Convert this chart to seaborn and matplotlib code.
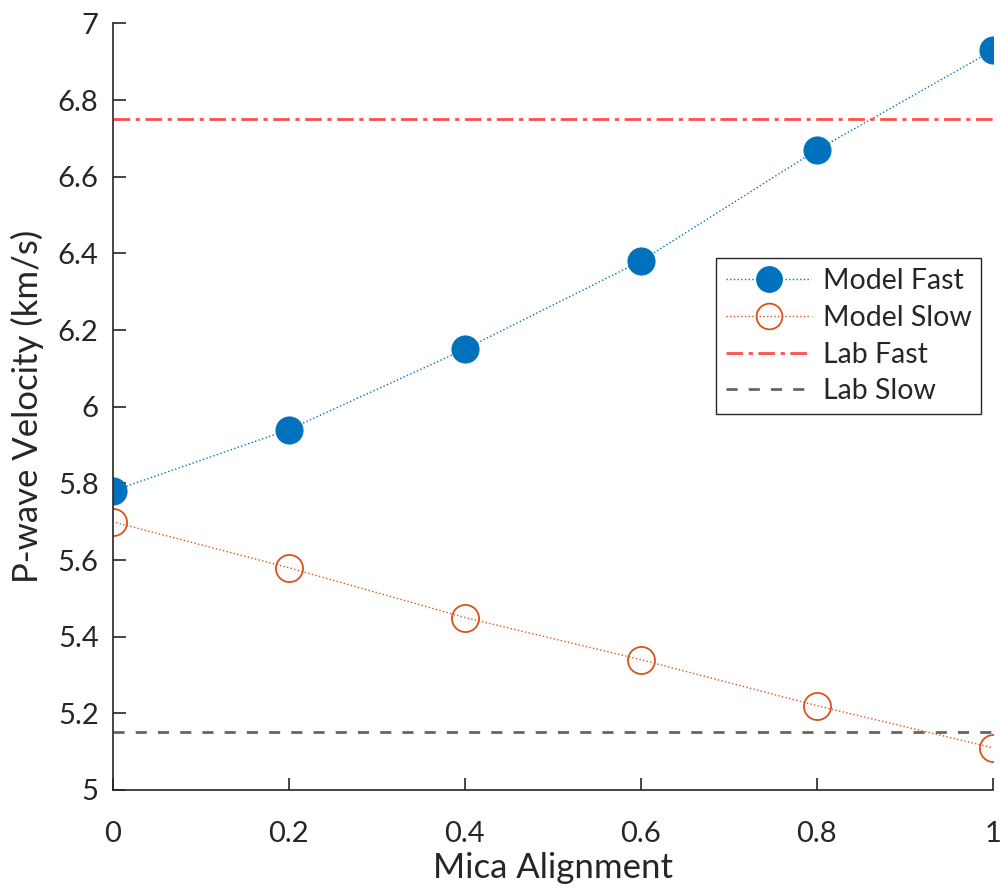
import numpy as np
import pandas as pd
import seaborn as sns
import matplotlib
matplotlib.use("Agg")
import matplotlib.pyplot as plt

# ---- data ----
mica_alignment = [0.0, 0.2, 0.4, 0.6, 0.8, 1.0]
model_fast = [5.78, 5.94, 6.15, 6.38, 6.67, 6.93]
model_slow = [5.70, 5.58, 5.45, 5.34, 5.22, 5.11]
lab_fast = 6.75
lab_slow = 5.15
x_ticks = [0, 0.2, 0.4, 0.6, 0.8, 1]
x_tick_labels = ["0", "0.2", "0.4", "0.6", "0.8", "1"]
y_ticks = [5, 5.2, 5.4, 5.6, 5.8, 6, 6.2, 6.4, 6.6, 6.8, 7]
y_tick_labels = ["5", "5.2", "5.4", "5.6", "5.8", "6", "6.2", "6.4", "6.6", "6.8", "7"]

sns.set_theme(style="white")
plt.rcParams['font.family'] = ['Lato', 'DejaVu Sans']

fig = plt.figure(figsize=(10, 8.89), dpi=100)
ax = fig.add_axes([0.1125, 0.1114, 0.8805, 0.8622])

df = pd.DataFrame({"x": mica_alignment, "fast": model_fast, "slow": model_slow})

sns.lineplot(data=df, x="x", y="fast", ax=ax, color="#0072BD", linestyle=":",
             linewidth=1.0, marker="o", markersize=19.5, markerfacecolor="#0072BD",
             markeredgecolor="#0072BD", label="Model Fast")
sns.lineplot(data=df, x="x", y="slow", ax=ax, color="#D95319", linestyle=":",
             linewidth=1.0, marker="o", markersize=19.5, markerfacecolor="none",
             markeredgecolor="#D95319", markeredgewidth=1.3, label="Model Slow")
ax.axhline(lab_fast, color="#FF4D4D", linestyle=(0, (6, 2, 1.5, 2)), linewidth=2.0,
           label="Lab Fast")
ax.axhline(lab_slow, color="#666666", linestyle=(0, (4, 4)), linewidth=2.0,
           label="Lab Slow")

ax.set_xlim(0, 1)
ax.set_ylim(5, 7)
ax.set_xticks(x_ticks)
ax.set_xticklabels(x_tick_labels)
ax.set_yticks(y_ticks)
ax.set_yticklabels(y_tick_labels)
ax.tick_params(direction="in", length=9, width=1.2, colors="#262626",
               labelsize=21, labelcolor="#262626", bottom=True, left=True)
ax.tick_params(axis="x", pad=22)
ax.tick_params(axis="y", pad=10)
for s in ["top", "right"]:
    ax.spines[s].set_visible(False)
for s in ["left", "bottom"]:
    ax.spines[s].set_color("#262626")
    ax.spines[s].set_linewidth(1.2)

ax.set_xlabel("Mica Alignment", fontsize=25, color="#262626", labelpad=4)
ax.set_ylabel("P-wave Velocity (km/s)", fontsize=25, color="#262626", labelpad=10)

leg = ax.legend(loc="upper left", bbox_to_anchor=(0.6854, 0.694), fontsize=20.5,
                frameon=True, fancybox=False, framealpha=1, edgecolor="#262626",
                handlelength=3.0, handletextpad=0.4, borderpad=0.35, labelspacing=0.38,
                markerscale=0.95, borderaxespad=0)
leg.get_frame().set_linewidth(1.0)

fig.savefig("out.png", dpi=100)
